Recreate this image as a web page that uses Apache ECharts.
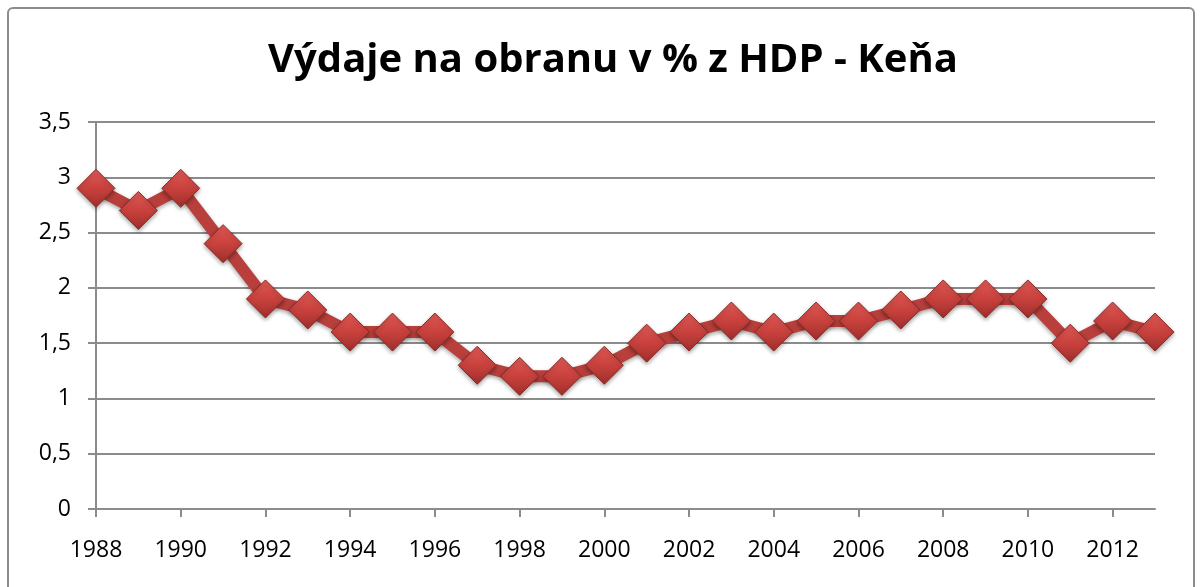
<!DOCTYPE html>
<html>
<head>
<meta charset="utf-8">
<script src="https://cdn.jsdelivr.net/npm/echarts@6/dist/echarts.min.js"></script>
<style>
  html, body { margin: 0; padding: 0; background: #fff; }
  #frame { position: absolute; left: 7px; top: 7px; width: 1188px; height: 590px; border: 2px solid #8c8c8c; border-radius: 6px; box-sizing: border-box; }
  #chart { width: 1201px; height: 587px; }
</style>
</head>
<body>
<div id="frame"></div>
<div id="chart"></div>
<script>
const years = ['1988','1989','1990','1991','1992','1993','1994','1995','1996','1997','1998','1999','2000',
  '2001','2002','2003','2004','2005','2006','2007','2008','2009','2010','2011','2012','2013']
const spending = [2.9, 2.7, 2.9, 2.4, 1.9, 1.8, 1.6, 1.6, 1.6, 1.3, 1.2, 1.2, 1.3,
  1.5, 1.6, 1.7, 1.6, 1.7, 1.7, 1.8, 1.9, 1.9, 1.9, 1.5, 1.7, 1.6]
const titleText = 'Výdaje na obranu v % z HDP - Keňa'

const mychart = echarts.init(document.getElementById('chart'))
const option = {
  animation: false,
  title: {
    text: titleText,
    left: 608,
    textAlign: 'center',
    top: 36,
    textStyle: { fontFamily: 'Open Sans', fontWeight: 'bold', fontSize: 40, color: '#000' }
  },
  grid: { left: 96, right: 46, top: 122, bottom: 78 },
  xAxis: {
    type: 'category',
    data: years,
    boundaryGap: false,
    axisLine: { lineStyle: { color: '#8c8c8c', width: 2 } },
    axisTick: { interval: 1, length: 8, lineStyle: { color: '#8c8c8c', width: 2 } },
    axisLabel: { interval: 1, margin: 30, fontFamily: 'Open Sans', fontSize: 23, color: '#000' },
    splitLine: { show: false }
  },
  yAxis: {
    type: 'value',
    min: 0,
    max: 3.5,
    interval: 0.5,
    axisLine: { show: true, lineStyle: { color: '#8c8c8c', width: 2 } },
    axisTick: { show: true, length: 8, lineStyle: { color: '#8c8c8c', width: 2 } },
    axisLabel: {
      margin: 25, fontFamily: 'Open Sans', fontSize: 23, color: '#000',
      formatter: v => String(v).replace('.', ',')
    },
    splitLine: { lineStyle: { color: '#8c8c8c', width: 2 } }
  },
  series: [
    {
      type: 'line',
      data: spending,
      symbol: 'diamond',
      symbolSize: 38,
      showAllSymbol: true,
      lineStyle: { color: '#b83f3b', width: 12, shadowColor: 'rgba(0,0,0,0.35)', shadowBlur: 4, shadowOffsetY: 2 },
      itemStyle: {
        color: new echarts.graphic.LinearGradient(0, 0, 0, 1, [
          { offset: 0, color: '#e05a56' },
          { offset: 0.5, color: '#c9413d' },
          { offset: 1, color: '#9e2f2c' }
        ]),
        borderColor: '#8a2a27',
        borderWidth: 1,
        shadowColor: 'rgba(0,0,0,0.35)',
        shadowBlur: 4,
        shadowOffsetY: 2
      }
    }
  ]
}
mychart.setOption(option)
</script>
</body>
</html>
